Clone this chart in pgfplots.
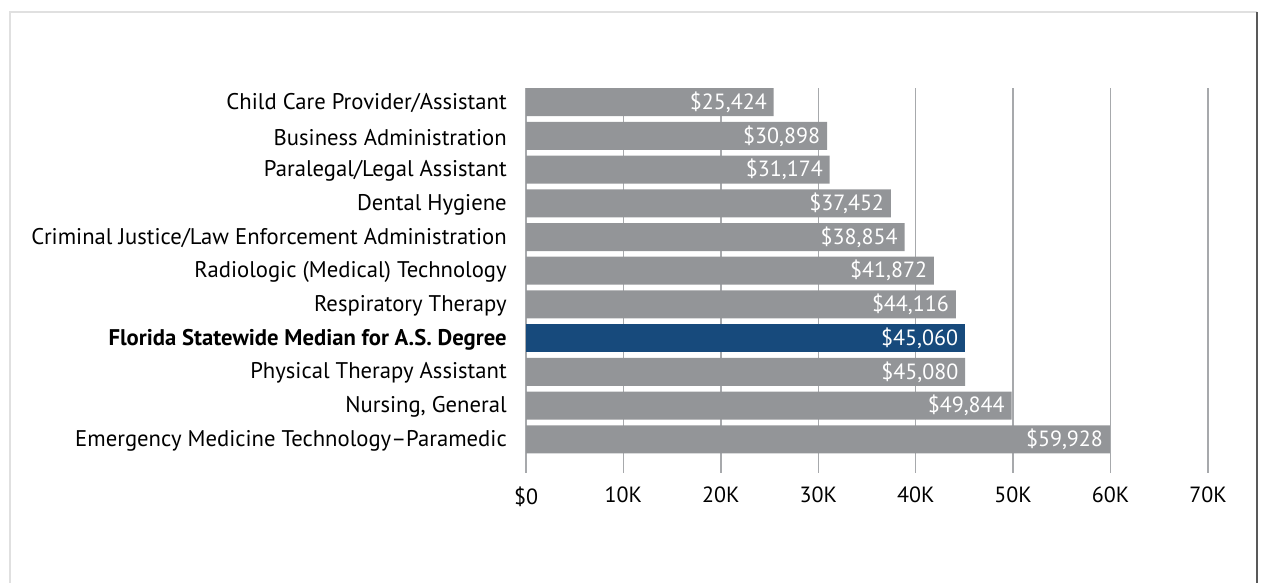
\documentclass[border=0pt]{standalone}
\usepackage{pgfplots}
\pgfplotsset{compat=1.18}
\usepackage{fontspec}
\setmainfont{PT Sans}
\definecolor{bargray}{HTML}{939598}
\definecolor{barblue}{HTML}{174A7C}
\definecolor{gridgray}{HTML}{A7A9AC}
\begin{document}
\begin{tikzpicture}
\path[use as bounding box] (0,0) rectangle (946.5pt,437.25pt);
\draw[color=black!12, line width=1.2pt] (7.5pt,0) -- (7.5pt,428.25pt) -- (942.75pt,428.25pt);
\draw[color=black!65, line width=2pt] (942.75pt,428.25pt) -- (942.75pt,0);
\begin{axis}[
  at={(394.5pt,82.5pt)}, anchor=south west,
  scale only axis, width=511.5pt, height=288.75pt,
  xbar, bar width=21pt,
  xmin=0, xmax=70000, ymin=-0.42, ymax=11.0,
  y dir=reverse,
  scaled x ticks=false,
  axis line style={draw=none}, tick style={draw=none},
  xmajorgrids, grid style={gridgray, line width=1pt},
  xtick={0,10000,20000,30000,40000,50000,60000,70000},
  xticklabels={\$0,10K,20K,30K,40K,50K,60K,70K},
  xticklabel style={font=\fontsize{16.5}{19}\selectfont, inner sep=0pt, yshift=-10pt},
  ytick={0,...,10},
  yticklabels={Child Care Provider/Assistant, Business Administration, Paralegal/Legal Assistant, Dental Hygiene, Criminal Justice/Law Enforcement Administration, Radiologic (Medical) Technology, Respiratory Therapy, {\bfseries Florida Statewide Median for A.S. Degree}, Physical Therapy Assistant, {Nursing, General}, Emergency Medicine Technology–Paramedic},
  yticklabel style={font=\fontsize{17}{20}\selectfont, inner sep=0pt, anchor=east, xshift=-10pt, yshift=-1pt},
  nodes near coords={\$\pgfmathprintnumber[assume math mode=true,fixed,precision=0,1000 sep={,}]{\pgfplotspointmeta}},
  point meta=x,
  nodes near coords style={anchor=east, text=white, font=\fontsize{16.5}{19}\selectfont, inner sep=0pt, xshift=-5pt},
]
\addplot[fill=bargray, draw=none, bar shift=0pt] coordinates {
  (25424,0) (30898,1) (31174,2) (37452,3) (38854,4) (41872,5) (44116,6) (45080,8) (49844,9) (59928,10)
};
\addplot[fill=barblue, draw=none, bar shift=0pt] coordinates {
  (45060,7)
};
\end{axis}
\end{tikzpicture}
\end{document}
